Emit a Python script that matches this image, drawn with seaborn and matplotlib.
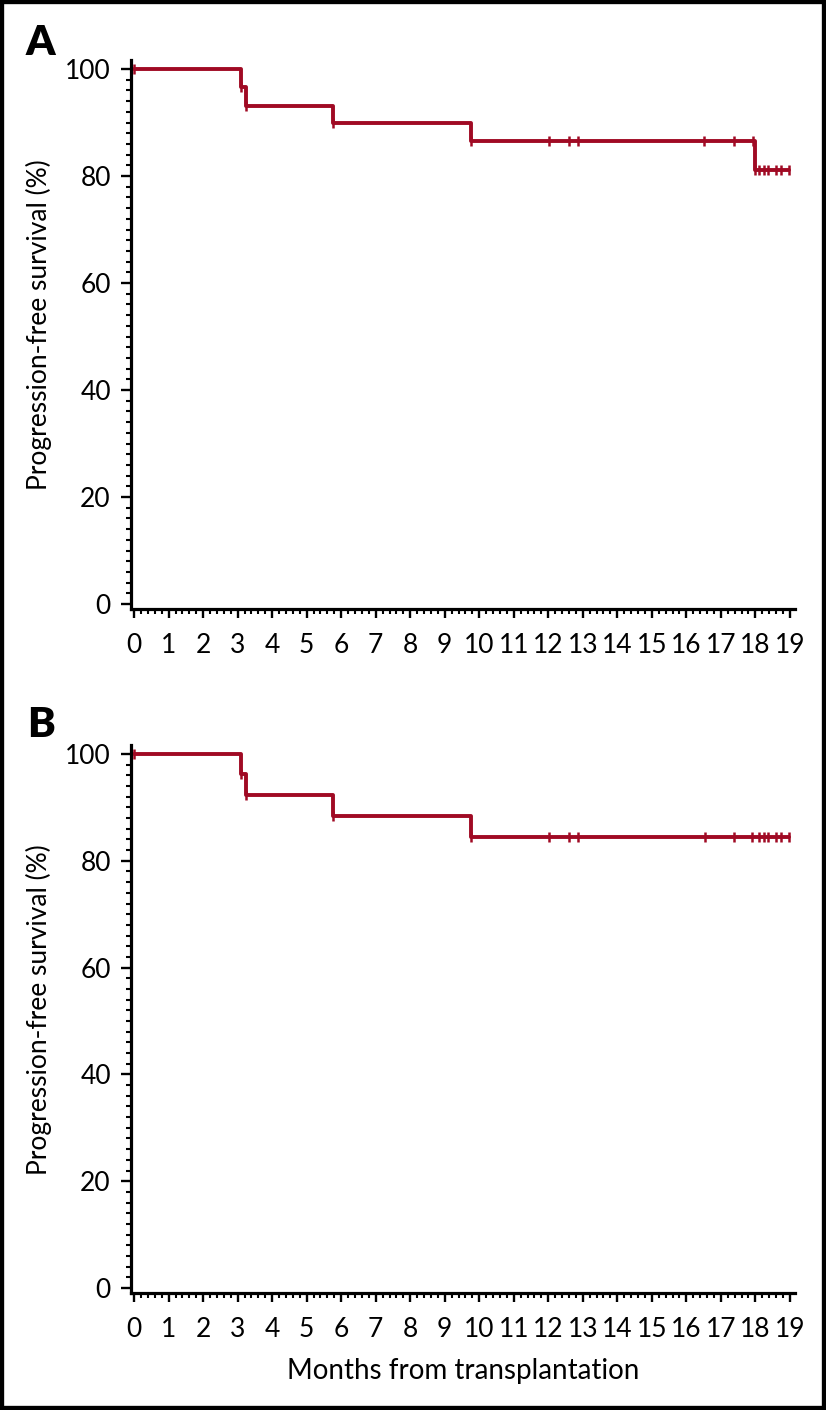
import numpy as np
import pandas as pd
import matplotlib
matplotlib.use("Agg")
import matplotlib.pyplot as plt
import seaborn as sns
from matplotlib.patches import Rectangle
from matplotlib.ticker import AutoMinorLocator

# ─── Données ─────────────────────────────────────────────────────────────────
steps_a_t = [0, 3.1, 3.25, 5.77, 9.75, 18.0, 18.97]
steps_a_s = [100, 96.6, 93.1, 90.0, 86.6, 81.2, 81.2]
cens_a = [0, 3.1, 3.25, 5.77, 9.75, 12.03, 12.6, 12.86, 16.52, 17.37, 17.92,
          18.0, 18.1, 18.24, 18.37, 18.61, 18.73, 18.97]

steps_b_t = [0, 3.1, 3.25, 5.77, 9.75, 18.97]
steps_b_s = [100, 96.2, 92.3, 88.3, 84.5, 84.5]
cens_b = [0, 3.1, 3.25, 5.77, 9.75, 12.03, 12.6, 12.86, 16.54, 17.38, 17.91,
          18.11, 18.25, 18.37, 18.61, 18.73, 18.97]

x_ticks = list(range(0, 20))
y_ticks = [0, 20, 40, 60, 80, 100]
panel_labels = ["A", "B"]

# ─── Style ───────────────────────────────────────────────────────────────────
RED = "#A00A24"
sns.set_style("ticks")
plt.rcParams.update({
    "font.family": ["Lato", "DejaVu Sans"],
    "text.color": "black",
    "axes.labelcolor": "black",
    "axes.edgecolor": "black",
    "axes.linewidth": 2.3,
    "xtick.major.width": 1.7,
    "ytick.major.width": 1.7,
    "xtick.minor.width": 1.5,
    "ytick.minor.width": 1.5,
    "xtick.color": "black",
    "ytick.color": "black",
})


def step_value(times, surv, t):
    idx = np.searchsorted(times, t, side="right") - 1
    return np.asarray(surv)[idx]


def draw_panel(ax, t, s, cens):
    df = pd.DataFrame({"t": t, "s": s})
    sns.lineplot(data=df, x="t", y="s", ax=ax, color=RED, lw=2.8,
                 drawstyle="steps-post", estimator=None, sort=False)
    dc = pd.DataFrame({"t": cens, "s": step_value(t, s, cens)})
    sns.scatterplot(data=dc, x="t", y="s", ax=ax, color=RED, marker="|",
                    s=55, linewidth=1.8, zorder=3)

    ax.set_xlim(-0.09, 19.15)
    ax.set_ylim(-0.93, 101.7)
    ax.set_xticks(x_ticks)
    ax.set_yticks(y_ticks)
    ax.xaxis.set_minor_locator(AutoMinorLocator(5))
    ax.yaxis.set_minor_locator(AutoMinorLocator(10))
    ax.tick_params(axis="both", which="major", labelsize=19)
    ax.tick_params(axis="y", which="major", length=7.5, pad=7)
    ax.tick_params(axis="y", which="minor", length=3.8)
    ax.tick_params(axis="x", which="major", length=6.5, pad=11)
    ax.tick_params(axis="x", which="minor", length=3.5)
    sns.despine(ax=ax)
    ax.set_ylabel("Progression-free survival (%)", fontsize=19)
    ax.yaxis.set_label_coords(-0.119, 0.517)
    ax.set_xlabel("")


fig = plt.figure(figsize=(8.26, 14.10), dpi=100)
ax_a = fig.add_axes([0.1586, 0.5681, 0.8039, 0.3894])
ax_b = fig.add_axes([0.1586, 0.0830, 0.8039, 0.3887])

draw_panel(ax_a, steps_a_t, steps_a_s, cens_a)
draw_panel(ax_b, steps_b_t, steps_b_s, cens_b)
ax_b.set_xlabel("Months from transplantation", fontsize=20, labelpad=11)

fig.text(40 / 826, 1 - 43 / 1410, panel_labels[0], fontsize=30,
         fontweight="heavy", ha="center", va="center")
fig.text(41 / 826, 1 - 725 / 1410, panel_labels[1], fontsize=30,
         fontweight="heavy", ha="center", va="center")

fig.patches.append(Rectangle((0, 0), 1, 1, transform=fig.transFigure,
                             fill=False, edgecolor="black", lw=6,
                             clip_on=False))

fig.savefig("out.png", dpi=100, facecolor="white")
